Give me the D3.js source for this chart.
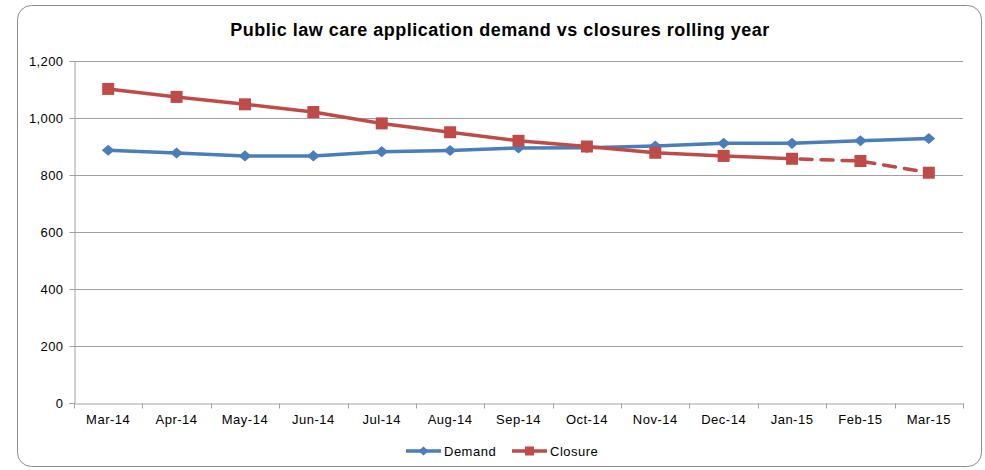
<!DOCTYPE html>
<html>
<head>
<meta charset="utf-8">
<script src="https://cdn.jsdelivr.net/npm/d3@7"></script>
<style>
  html, body { margin: 0; padding: 0; background: #fff; }
  svg { display: block; font-family: "Liberation Sans", Arial, sans-serif; }
</style>
</head>
<body>
<svg id="chart" width="985" height="470"></svg>
<script>
// Rolling-year figures per month
const months = ["Mar-14", "Apr-14", "May-14", "Jun-14", "Jul-14", "Aug-14", "Sep-14",
                "Oct-14", "Nov-14", "Dec-14", "Jan-15", "Feb-15", "Mar-15"];
const demand  = [887, 877, 867, 867, 882, 886, 895, 896, 902, 911, 911, 920, 928];
const closure = [1102, 1074, 1048, 1021, 981, 950, 920, 900, 878, 867, 857, 849, 808];
// Closures from this month onward are drawn dashed (projected)
const projectedFrom = "Jan-15";
const yTicks = [0, 200, 400, 600, 800, 1000, 1200];
const seriesNames = ["Demand", "Closure"];

const blue = "#4a7ebb", red = "#be4b48", grid = "#a0a0a0";

const svg = d3.select("#chart");

// Outer chart frame
svg.append("rect")
  .attr("x", 17.5).attr("y", 5.5).attr("width", 964).attr("height", 461)
  .attr("rx", 14).attr("ry", 14)
  .attr("fill", "#fff").attr("stroke", "#8c8c8c").attr("stroke-width", 1);

svg.append("text")
  .attr("x", 500).attr("y", 36)
  .attr("text-anchor", "middle")
  .attr("font-size", 18).attr("font-weight", "bold").attr("fill", "#000")
  .attr("letter-spacing", 0.5)
  .text("Public law care application demand vs closures rolling year");

const plot = { left: 74, right: 963, top: 61, bottom: 403 };

const x = d3.scaleBand().domain(months).range([plot.left, plot.right]);
const y = d3.scaleLinear().domain([0, 1200]).range([plot.bottom, plot.top]);
const cx = m => x(m) + x.bandwidth() / 2;

// Horizontal gridlines
svg.append("g").selectAll("line").data(yTicks.filter(d => d > 0)).join("line")
  .attr("x1", plot.left).attr("x2", plot.right)
  .attr("y1", d => Math.round(y(d)) + 0.5).attr("y2", d => Math.round(y(d)) + 0.5)
  .attr("stroke", grid).attr("stroke-width", 1);

// Y axis
const yAxis = svg.append("g")
  .attr("transform", `translate(${plot.left + 0.5},0)`)
  .call(d3.axisLeft(y).tickValues(yTicks).tickSize(5).tickPadding(6)
        .tickFormat(d3.format(",")));
yAxis.select(".domain").attr("stroke", grid);
yAxis.selectAll(".tick line").attr("stroke", grid);
yAxis.selectAll(".tick text").attr("font-size", 13).attr("fill", "#000")
  .attr("letter-spacing", 0.4)
  .attr("font-family", "Liberation Sans, Arial, sans-serif");

// X axis with ticks on category boundaries
const xAxis = svg.append("g")
  .attr("transform", `translate(0,${Math.round(plot.bottom) + 0.5})`)
  .call(d3.axisBottom(x).tickSize(0).tickPadding(11));
xAxis.select(".domain").attr("stroke", grid);
xAxis.selectAll(".tick text").attr("font-size", 13).attr("fill", "#000")
  .attr("letter-spacing", 0.5)
  .attr("font-family", "Liberation Sans, Arial, sans-serif");
const bounds = months.map(m => x(m)).concat([plot.right]);
xAxis.selectAll(".bound").data(bounds).join("line").attr("class", "bound")
  .attr("x1", d => Math.round(d) + 0.5).attr("x2", d => Math.round(d) + 0.5)
  .attr("y1", 0).attr("y2", 5).attr("stroke", grid);

// Lines
const line = d3.line().x(d => cx(d.m)).y(d => y(d.v));
const demandPts = months.map((m, i) => ({ m, v: demand[i] }));
const closurePts = months.map((m, i) => ({ m, v: closure[i] }));
const split = months.indexOf(projectedFrom);

svg.append("path").datum(demandPts).attr("d", line)
  .attr("fill", "none").attr("stroke", blue).attr("stroke-width", 3.5)
  .attr("stroke-linejoin", "round");
svg.append("path").datum(closurePts.slice(0, split + 1)).attr("d", line)
  .attr("fill", "none").attr("stroke", red).attr("stroke-width", 3.5)
  .attr("stroke-linejoin", "round");
svg.append("path").datum(closurePts.slice(split)).attr("d", line)
  .attr("fill", "none").attr("stroke", red).attr("stroke-width", 3.5)
  .attr("stroke-dasharray", "12,9").attr("stroke-dashoffset", -8)
  .attr("stroke-linecap", "round");

// Markers
const diamond = d3.symbol().type(d3.symbolDiamond2).size(78);
svg.append("g").selectAll("path").data(demandPts).join("path")
  .attr("transform", d => `translate(${cx(d.m)},${y(d.v)}) scale(1.15,1)`)
  .attr("d", diamond).attr("fill", blue);
svg.append("g").selectAll("rect").data(closurePts).join("rect")
  .attr("x", d => cx(d.m) - 6).attr("y", d => y(d.v) - 6)
  .attr("width", 12).attr("height", 12).attr("fill", red);

// Legend
const legend = svg.append("g").attr("transform", "translate(0,451)");
const legendItems = [
  { name: seriesNames[0], color: blue, x0: 406, shape: "diamond" },
  { name: seriesNames[1], color: red, x0: 512, shape: "square" }
];
legendItems.forEach(it => {
  legend.append("line").attr("x1", it.x0).attr("x2", it.x0 + 35)
    .attr("y1", 0).attr("y2", 0).attr("stroke", it.color).attr("stroke-width", 3.5);
  if (it.shape === "diamond") {
    legend.append("path").attr("transform", `translate(${it.x0 + 17.5},0) scale(1.15,1)`)
      .attr("d", d3.symbol().type(d3.symbolDiamond2).size(50)).attr("fill", it.color);
  } else {
    legend.append("rect").attr("x", it.x0 + 13).attr("y", -4.5)
      .attr("width", 9).attr("height", 9).attr("fill", it.color);
  }
  legend.append("text").attr("x", it.x0 + 38).attr("y", 5)
    .attr("font-size", 13).attr("fill", "#000").attr("letter-spacing", 0.5)
    .text(it.name);
});
</script>
</body>
</html>
